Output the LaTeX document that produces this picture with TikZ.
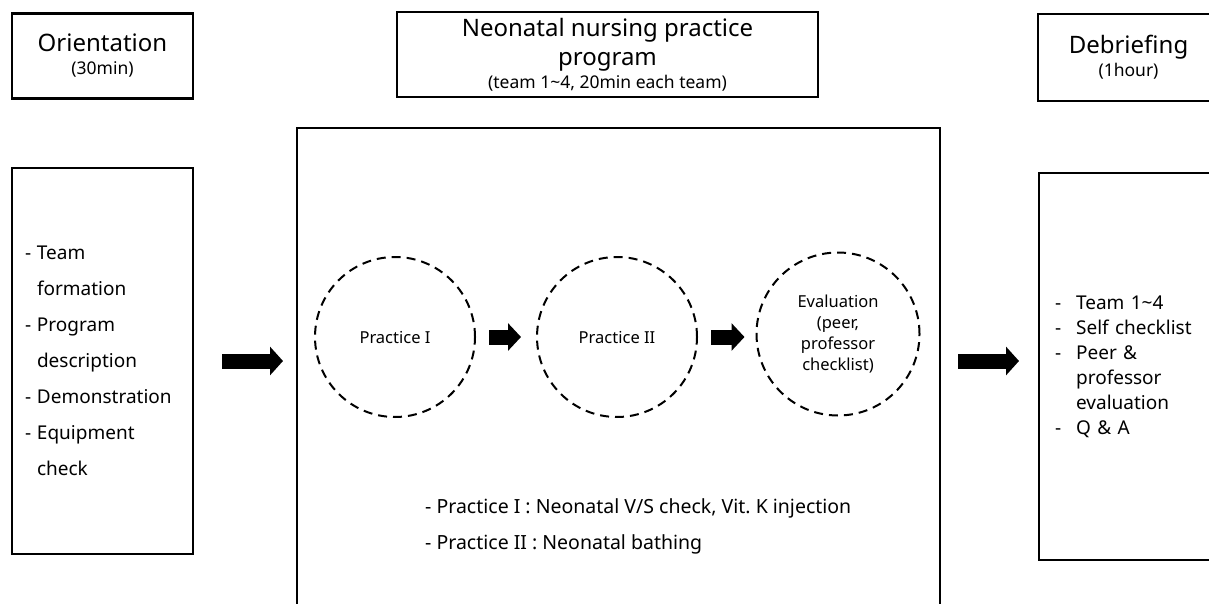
\documentclass[tikz,border=0pt]{standalone}
\usepackage{fontspec}
\setmainfont{Noto Sans}
\usepackage{tikz}
\usetikzlibrary{arrows.meta}

\newcommand{\titlefont}{\fontsize{24}{29}\selectfont}
\newcommand{\subfont}{\fontsize{17.5}{20}\selectfont}
\newcommand{\listfont}{\fontsize{19}{36}\selectfont}
\newcommand{\notefont}{\fontsize{19.5}{36}\selectfont}
\newcommand{\rlistfont}{\fontsize{19}{25}\selectfont}
\newcommand{\circfont}{\fontsize{16.5}{21}\selectfont}
\newcommand{\dashitem}[1]{\makebox[#1][l]{-}}

\begin{document}
\begin{tikzpicture}[x=1pt, y=-1pt,
    box/.style={draw, line width=2.2pt, rectangle, inner sep=0pt},
    stage/.style={draw, circle, dashed, line width=2pt, dash pattern=on 9pt off 6pt,
        minimum size=160pt, inner sep=0pt, align=center, font=\circfont},
    bigarrow/.style={line width=15pt, -{Triangle[length=13pt, width=28pt]}},
    smallarrow/.style={line width=15pt, -{Triangle[length=13pt, width=27pt]}}]
    \clip (0,0) rectangle (1209,604);

    % Headings
    \node[box, minimum width=181pt, minimum height=85pt, align=center, font=\titlefont]
        (orient) at (102.5,56) {Orientation\\[-6pt]{\subfont (30min)}};
    \node[box, minimum width=421pt, minimum height=85pt, align=center, font=\titlefont]
        (progtitle) at (607.5,54.5) {Neonatal nursing practice\\program\\[-6pt]{\subfont (team 1\textasciitilde4, 20min each team)}};
    \node[box, minimum width=181pt, minimum height=87pt, align=center, font=\titlefont]
        (debrief) at (1128.5,57.5) {Debriefing\\[-6pt]{\subfont (1hour)}};

    % Left and right lists
    \node[box, minimum width=181pt, minimum height=386pt, text width=155pt,
        inner xsep=13pt, align=left, font=\listfont]
        (orientlist) at (102.5,361) {\dashitem{12pt}Team\\\hspace*{12pt}formation\\
        \dashitem{12pt}Program\\\hspace*{12pt}description\\\dashitem{12pt}Demonstration\\
        \dashitem{12pt}Equipment\\\hspace*{12pt}check};
    \node[box, minimum width=181pt, minimum height=387pt, text width=149pt,
        inner xsep=16pt, align=left, font=\rlistfont, anchor=north west]
        (debrieflist) at (1038,172) {\dashitem{21pt}Team 1\textasciitilde4\\
        \dashitem{21pt}Self checklist\\\dashitem{21pt}Peer \&\\
        \hspace*{21pt}professor\\\hspace*{21pt}evaluation\\\dashitem{21pt}Q \& A};

    % Program box
    \node[box, minimum width=643pt, minimum height=520pt, anchor=north west]
        (prog) at (296,127) {};
    \node[stage] (p1) at (395,337) {Practice I};
    \node[stage] (p2) at (617,337) {Practice II};
    \node[stage, minimum size=163pt] (p3) at (838,334)
        {Evaluation\\(peer,\\professor\\checklist)};
    \node[align=left, anchor=west, inner sep=0pt, font=\notefont] (notes) at (425,526)
        {- Practice I : Neonatal V/S check, Vit.\ K injection\\- Practice II : Neonatal bathing};

    % Arrows
    \draw[bigarrow, shorten <=28pt, shorten >=13pt] (orientlist.east) -- (orientlist.east -| prog.west);
    \draw[bigarrow, shorten <=17pt, shorten >=19pt] (orientlist.east -| prog.east) -- (orientlist.east -| debrieflist.west);
    \draw[smallarrow, shorten <=13pt, shorten >=15pt] (p1.east) -- (p2.west);
    \draw[smallarrow, shorten <=13pt, shorten >=11pt] (p2.east) -- (p2.east -| p3.west);
\end{tikzpicture}
\end{document}
